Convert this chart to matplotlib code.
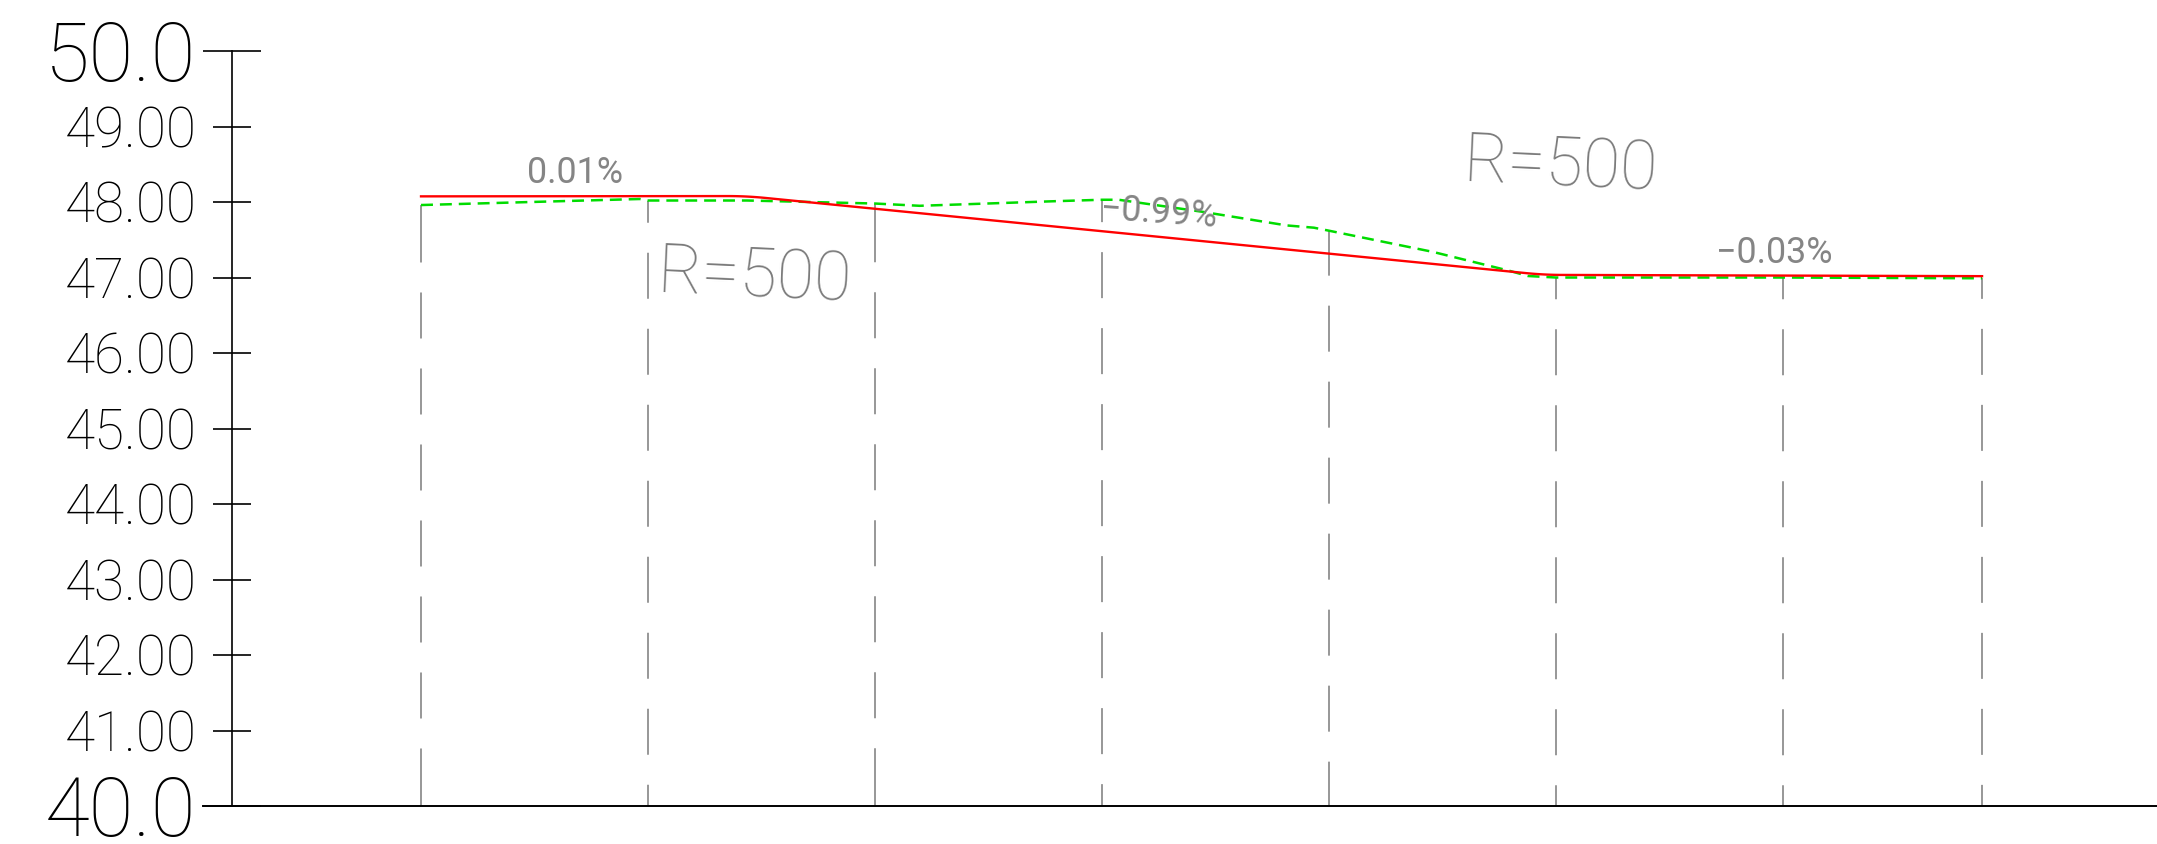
import numpy as np
import matplotlib
matplotlib.use('Agg')
import matplotlib.pyplot as plt

plt.rcParams['font.family'] = ['Roboto', 'DejaVu Sans']
plt.rcParams['font.weight'] = 'light'
plt.rcParams['lines.scale_dashes'] = False

# section stations (m)
stations = [0, 30, 60, 90, 120, 150, 180, 206.3]

# design grade line: PVI stations / elevations, vertical curve radius
pvi_sta = [0, 43.0, 148.4, 206.3]
pvi_elev = [48.075, 48.079, 47.035, 47.018]
curve_r = [500, 500]
grade_labels = ['0.01%', '\u22120.99%', '\u22120.03%']

# existing ground line
ground_sta = [0, 28.9, 30, 43.1, 60, 65.9, 74.8, 83.5, 90, 92.2, 103.3,
              114.4, 118, 120, 133.7, 143.8, 146.3, 150, 180, 206.3]
ground_elev = [47.96, 48.04, 48.02, 48.02, 47.98, 47.95, 47.98, 48.01, 48.03, 48.03, 47.87,
               47.69, 47.66, 47.62, 47.34, 47.09, 47.02, 47.00, 47.00, 46.99]

# elevation axis
y_min, y_max = 40, 50
y_inner = list(range(41, 50))

PX_Y = 75.5  # px per metre (vertical)
GRAY = '#858585'
TXT_GRAY = '#7a7a7a'


def grade_line(sta, elev, radii, n=40):
    sta = np.asarray(sta, float)
    elev = np.asarray(elev, float)
    g = np.diff(elev) / np.diff(sta)
    xs, ys = [sta[0]], [elev[0]]
    for i in range(1, len(sta) - 1):
        t = radii[i - 1] * abs(g[i] - g[i - 1]) / 2
        d = np.linspace(0, 2 * t, n)
        xs.extend(sta[i] - t + d)
        ys.extend(elev[i] - g[i - 1] * t + g[i - 1] * d + (g[i] - g[i - 1]) / (4 * t) * d ** 2)
    xs.append(sta[-1])
    ys.append(elev[-1])
    return np.array(xs), np.array(ys)


fig = plt.figure(figsize=(21.57, 8.45), dpi=100)
ax = fig.add_axes([0, 0, 1, 1])
ax.set_xlim(-55.64, 229.42)
ax.set_ylim(39.497, 50.689)

# axes lines
for s in ['top', 'right']:
    ax.spines[s].set_visible(False)
ax.spines['left'].set_position(('data', -25))
ax.spines['left'].set_bounds(y_min, y_max)
ax.spines['bottom'].set_position(('data', y_min))
ax.spines['bottom'].set_bounds(-28.8, 229.42)
ax.spines['left'].set_linewidth(1.2)
ax.spines['bottom'].set_linewidth(1.4)
ax.set_xticks([])
ax.set_yticks([y_min, y_max])
ax.set_yticks(y_inner, minor=True)
ax.tick_params(axis='y', which='major', direction='inout', length=41.8, width=1.2, labelleft=False)
ax.tick_params(axis='y', which='minor', direction='inout', length=27.4, width=1.2, labelleft=False)

# tick labels
for v in [y_min, y_max]:
    ax.text(-29.7, v - 29 / PX_Y, f'{v:.1f}', fontsize=58.7, ha='right', va='baseline', color='black')
for v in y_inner:
    ax.text(-29.7, v - 19.5 / PX_Y, f'{v:.2f}', fontsize=39.5, ha='right', va='baseline', color='black')

# section lines (CAD style dashes, ends adjusted)
ground_at = np.interp(stations, ground_sta, ground_elev)
dash_px, gap_px = 46, 30
inner = [6, 7, 6, 7, 6, 6, 6, 6]
for s, top, k in zip(stations, ground_at, inner):
    length = (top - y_min) * PX_Y
    end = (length - (k + 1) * gap_px - k * dash_px) / 2
    seq = [end, gap_px] + [dash_px, gap_px] * k + [end, gap_px]
    ax.plot([s, s], [top, y_min], color=GRAY, lw=1.2, dashes=[v * 0.72 for v in seq])

# ground and design lines
ax.plot(ground_sta, ground_elev, color='#00dc00', lw=1.8, dashes=(8.6, 5))
gx, gy = grade_line(pvi_sta, pvi_elev, curve_r)
ax.plot(gx, gy, color='red', lw=1.7)

# annotations
small = dict(fontsize=25.8, color='#858585', va='baseline', fontweight='normal')
ax.text(20.4, 48.26, grade_labels[0], ha='center', **small)
ax.text(89.7, 47.79, grade_labels[1], ha='left', rotation=-4, rotation_mode='anchor', **small)
ax.text(178.9, 47.21, grade_labels[2], ha='center', **small)
ax.text(31.15, 46.81, f'R={curve_r[0]}', fontsize=49.1, color=TXT_GRAY, ha='left', va='baseline',
        rotation=-2.6, rotation_mode='anchor')
ax.text(137.7, 48.28, f'R={curve_r[1]}', fontsize=49.1, color=TXT_GRAY, ha='left', va='baseline',
        rotation=-2.6, rotation_mode='anchor')

fig.savefig('out.png', dpi=100)
